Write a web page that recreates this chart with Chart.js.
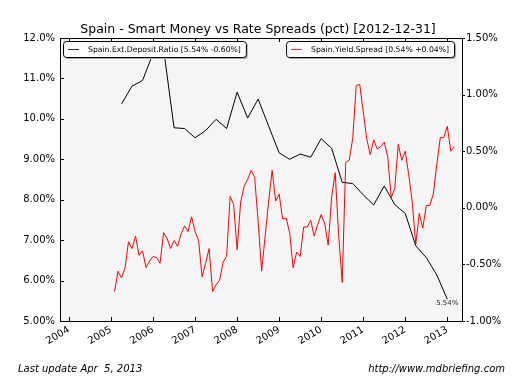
<!DOCTYPE html>
<html>
<head>
<meta charset="UTF-8">
<title>Spain - Smart Money vs Rate Spreads</title>
<script src="https://cdn.jsdelivr.net/npm/chart.js@4"></script>
<style>
body { margin: 0; background: #fff; }
canvas { display: block; }
</style>
</head>
<body>
<canvas id="chart" width="529" height="379"></canvas>
<script>
// Data
const yearTicks = [2004, 2005, 2006, 2007, 2008, 2009, 2010, 2011, 2012, 2013];

// Spain.Yield.Spread, monthly from Jan 2005 to Feb 2013 (pct, right axis)
const spreadStart = 2005; // first month = January of this year
const yieldSpread = [
    -0.74, -0.56, -0.62, -0.53, -0.30, -0.36, -0.25, -0.42, -0.38, -0.53, -0.47, -0.43,
    -0.44, -0.49, -0.22, -0.27, -0.36, -0.29, -0.34, -0.23, -0.16, -0.21, -0.08, -0.21,
    -0.29, -0.61, -0.49, -0.36, -0.74, -0.68, -0.64, -0.48, -0.43, 0.10, 0.03, -0.37,
    0.05, 0.19, 0.25, 0.33, 0.27, -0.12, -0.56, -0.25, 0.06, 0.33, 0.06, 0.12,
    -0.10, -0.09, -0.22, -0.53, -0.39, -0.43, -0.17, -0.17, -0.11, -0.25, -0.15, -0.06,
    -0.14, -0.33, 0.10, 0.31, -0.25, -0.66, 0.40, 0.42, 0.61, 1.08, 1.09, 0.85,
    0.61, 0.47, 0.60, 0.52, 0.54, 0.58, 0.45, 0.09, 0.17, 0.56, 0.42, 0.50,
    0.29, 0.05, -0.32, -0.05, -0.18, 0.02, 0.02, 0.12, 0.38, 0.62, 0.62, 0.72,
    0.50, 0.54
];

// Spain.Ext.Deposit.Ratio, quarterly from Q1 2005 to Q4 2012 (pct, left axis)
const depositStart = 2005; // first quarter = Q1 of this year
const depositRatio = [
    10.37, 10.81, 10.95, 11.62,
    11.73, 9.78, 9.76, 9.53,
    9.71, 9.99, 9.76, 10.66,
    10.02, 10.49, 9.82, 9.16,
    9.00, 9.13, 9.05, 9.51,
    9.27, 8.43, 8.40, 8.12,
    7.87, 8.34, 7.88, 7.66,
    6.86, 6.57, 6.14, 5.54
];

const spreadLabel  = 'Spain.Yield.Spread [0.54% +0.04%]';
const depositLabel = 'Spain.Ext.Deposit.Ratio [5.54% -0.60%]';
const lastDepositNote = '5.54%';

// Helpers: place values at period ends on a decimal-year axis
const spreadPoints  = yieldSpread.map((v, i) => ({x: spreadStart + (i + 1) / 12, y: v}));
const depositPoints = depositRatio.map((v, i) => ({x: depositStart + (i + 1) / 4, y: v}));

const FONT = '"DejaVu Sans", sans-serif';

const chartDecor = {
    id: 'chartDecor',
    beforeDraw(chart) {
        const {ctx, chartArea: a} = chart;
        ctx.save();
        ctx.fillStyle = '#f5f5f5';
        ctx.fillRect(a.left, a.top, a.right - a.left, a.bottom - a.top);
        ctx.restore();
    },
    afterDatasetsDraw(chart) {
        const {ctx, chartArea: a} = chart;
        ctx.save();

        // note at last deposit point
        const meta = chart.getDatasetMeta(1);
        const last = meta.data[meta.data.length - 1];
        ctx.font = '7px ' + FONT;
        ctx.fillStyle = '#222';
        ctx.textAlign = 'center';
        ctx.textBaseline = 'middle';
        ctx.fillText(lastDepositNote, last.x, last.y + 4);

        // legend boxes inside the plot
        const drawBox = (x, y, label, color, alignRight) => {
            ctx.font = '7.7px ' + FONT;
            const tw = ctx.measureText(label).width;
            const w  = 5 + 11 + 9 + tw + 5;
            const h  = 16;
            const bx = alignRight ? x - w : x;
            ctx.fillStyle = '#aaaaaa';
            ctx.beginPath();
            ctx.roundRect(bx + 2, y + 2, w, h, 3);
            ctx.fill();
            ctx.fillStyle = '#ffffff';
            ctx.strokeStyle = '#000';
            ctx.lineWidth = 1;
            ctx.beginPath();
            ctx.roundRect(bx + 0.5, y + 0.5, w, h, 3);
            ctx.fill();
            ctx.stroke();
            ctx.strokeStyle = color;
            ctx.beginPath();
            ctx.moveTo(bx + 5, y + h / 2 + 0.5);
            ctx.lineTo(bx + 16, y + h / 2 + 0.5);
            ctx.stroke();
            ctx.fillStyle = '#000';
            ctx.textAlign = 'left';
            ctx.textBaseline = 'middle';
            ctx.fillText(label, bx + 25, y + h / 2 + 1);
        };
        drawBox(a.left + 3, a.top + 3, depositLabel, '#333333', false);
        drawBox(a.right - 8, a.top + 3, spreadLabel, '#ff3333', true);
        ctx.restore();
    },
    afterDraw(chart) {
        const {ctx, chartArea: a, scales} = chart;
        ctx.save();
        ctx.strokeStyle = '#000';
        ctx.lineWidth = 1;

        // tick marks
        ctx.beginPath();
        scales.x.ticks.forEach((t) => {
            const px = Math.round(scales.x.getPixelForValue(t.value)) + 0.5;
            ctx.moveTo(px, a.bottom); ctx.lineTo(px, a.bottom - 4);
            ctx.moveTo(px, a.top);    ctx.lineTo(px, a.top + 4);
        });
        scales.y.ticks.forEach((t) => {
            const py = Math.round(scales.y.getPixelForValue(t.value)) + 0.5;
            ctx.moveTo(a.left, py); ctx.lineTo(a.left + 4, py);
        });
        scales.y2.ticks.forEach((t) => {
            const py = Math.round(scales.y2.getPixelForValue(t.value)) + 0.5;
            ctx.moveTo(a.right, py); ctx.lineTo(a.right + 3, py);
        });
        ctx.stroke();

        // frame
        ctx.strokeRect(a.left + 0.5, a.top + 0.5, a.right - a.left, a.bottom - a.top);

        // title
        ctx.fillStyle = '#000';
        ctx.font = '12.5px ' + FONT;
        ctx.textAlign = 'center';
        ctx.textBaseline = 'alphabetic';
        ctx.fillText('Spain - Smart Money vs Rate Spreads (pct) [2012-12-31]', (a.left + a.right) / 2 - 3, 33);

        // footer
        ctx.font = 'italic 10px ' + FONT;
        ctx.textAlign = 'left';
        ctx.fillText('Last update Apr  5, 2013', 18, 372);
        ctx.textAlign = 'right';
        ctx.fillText('http://www.mdbriefing.com', 505, 372);
        ctx.restore();
    }
};

const tickFont = {family: FONT, size: 10};

new Chart(document.getElementById('chart'), {
    type: 'line',
    data: {
        datasets: [
            {
                label: spreadLabel,
                data: spreadPoints,
                yAxisID: 'y2',
                borderColor: '#ff0000',
                borderWidth: 1,
                pointRadius: 0,
                tension: 0,
                order: 0
            },
            {
                label: depositLabel,
                data: depositPoints,
                yAxisID: 'y',
                borderColor: '#000000',
                borderWidth: 1,
                pointRadius: 0,
                tension: 0,
                order: 1
            }
        ]
    },
    options: {
        responsive: false,
        animation: false,
        devicePixelRatio: 1,
        layout: {padding: {top: 38, left: 0, right: 0, bottom: 0}},
        plugins: {legend: {display: false}, title: {display: false}, tooltip: {enabled: false}},
        scales: {
            x: {
                type: 'linear',
                min: 2003.786,
                max: 2013.35,
                afterBuildTicks: (scale) => { scale.ticks = yearTicks.map((v) => ({value: v})); },
                afterFit: (scale) => { scale.height = 58; },
                grid: {display: false, drawTicks: false},
                border: {display: false},
                ticks: {
                    autoSkip: false,
                    minRotation: 30,
                    maxRotation: 30,
                    padding: 3,
                    color: '#000',
                    font: tickFont,
                    callback: (v) => String(v)
                }
            },
            y: {
                position: 'left',
                min: 5,
                max: 12,
                afterFit: (scale) => { scale.width = 60; },
                grid: {display: false, drawTicks: false},
                border: {display: false},
                ticks: {
                    stepSize: 1,
                    padding: 5,
                    color: '#000',
                    font: tickFont,
                    callback: (v) => Number(v).toPrecision(3) + '%'
                }
            },
            y2: {
                position: 'right',
                min: -1,
                max: 1.5,
                afterFit: (scale) => { scale.width = 67; },
                grid: {display: false, drawTicks: false},
                border: {display: false},
                ticks: {
                    stepSize: 0.5,
                    padding: 4,
                    color: '#000',
                    font: tickFont,
                    callback: (v) => Number(v).toFixed(2) + '%'
                }
            }
        }
    },
    plugins: [chartDecor]
});
</script>
</body>
</html>
